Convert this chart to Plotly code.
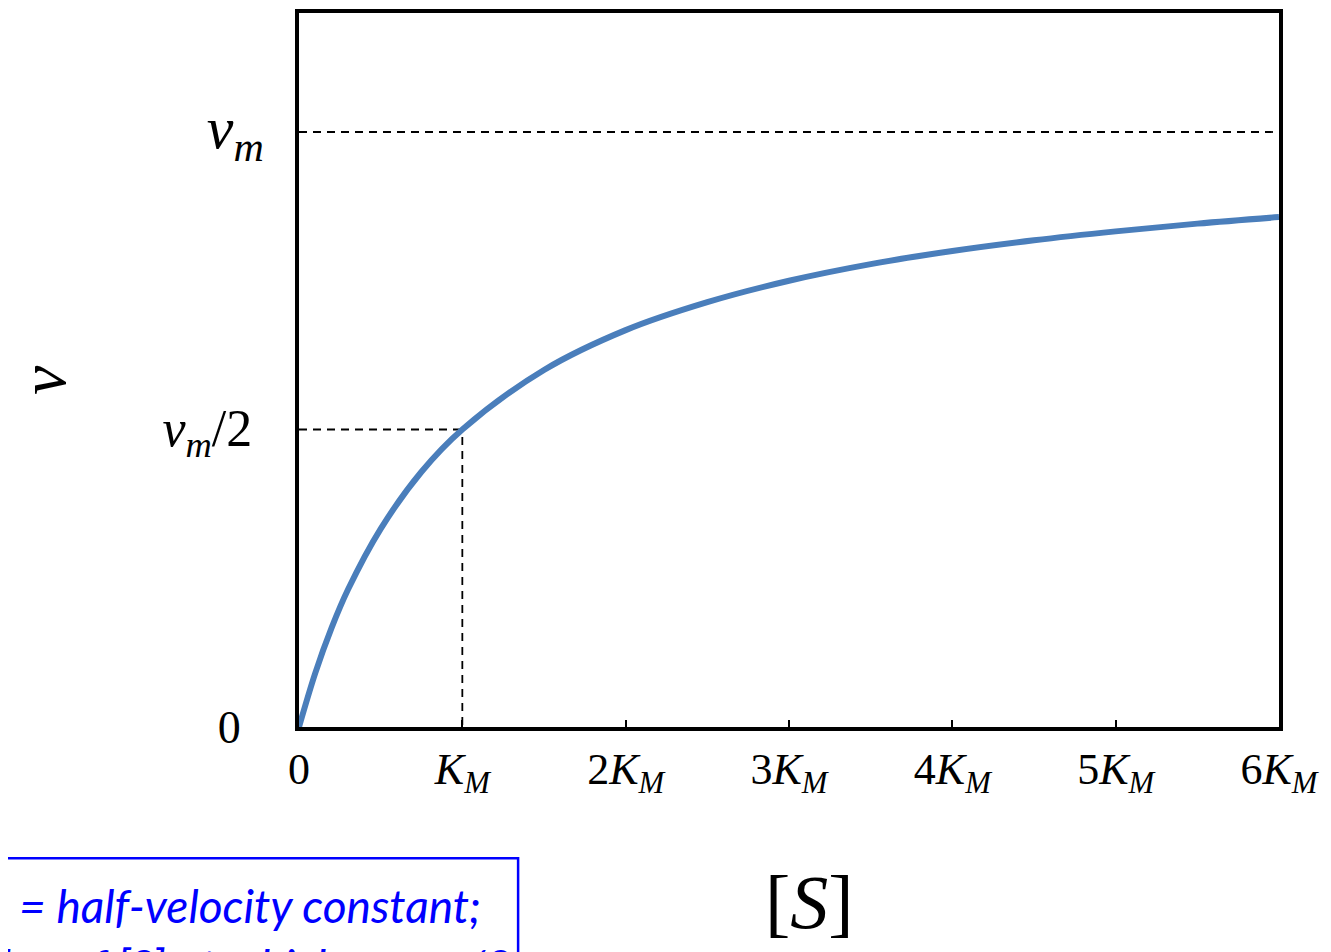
import plotly.graph_objects as go

# Data (x in units of K_M, v in units of v_m)
s_vals = [0, 0.1, 0.2, 0.3, 0.5, 0.75, 1.0, 1.5, 2.0, 2.5, 3.0, 3.5, 4.0, 4.5, 5.0, 5.5, 6.0]
v_vals = [0, 0.091, 0.167, 0.231, 0.333, 0.429, 0.5, 0.6, 0.667, 0.714, 0.75, 0.778, 0.8, 0.818, 0.833, 0.846, 0.857]

x_tickvals = [0, 1, 2, 3, 4, 5, 6]
x_ticktext = ["0",
              "<i>K</i><sub><i>M</i></sub>",
              "2<i>K</i><sub><i>M</i></sub>",
              "3<i>K</i><sub><i>M</i></sub>",
              "4<i>K</i><sub><i>M</i></sub>",
              "5<i>K</i><sub><i>M</i></sub>",
              "6<i>K</i><sub><i>M</i></sub>"]
y_tickvals = [0, 0.5, 1.0]
y_ticktext = ["0&nbsp;&nbsp;",
              "<span style='font-size:52px'><i>v</i><sub><i>m</i></sub>/2</span>&nbsp;",
              "<span style='font-size:60px'><i>v</i><sub><i>m</i></sub></span>"]

# guide lines
vm_line_x = [0, 6]
vm_line_y = [1.0, 1.0]
half_line_x = [0, 1]
half_line_y = [0.5, 0.5]
km_line_x = [1, 1]
km_line_y = [-0.02, 0.5]

SERIF = "Liberation Serif"
dash = "8px,6px"

# browser body margin (8px) compensation
OFF = 8
L, R, T, B = 297 - OFF + 2, 50 + OFF + 2, 11 - OFF - 2, 223 + OFF + 2

fig = go.Figure()
fig.add_trace(go.Scatter(x=vm_line_x, y=vm_line_y, mode="lines",
                         line=dict(color="black", width=1.8, dash=dash),
                         hoverinfo="skip", cliponaxis=False))
fig.add_trace(go.Scatter(x=half_line_x, y=half_line_y, mode="lines",
                         line=dict(color="black", width=1.8, dash=dash),
                         hoverinfo="skip"))
fig.add_trace(go.Scatter(x=km_line_x, y=km_line_y, mode="lines",
                         line=dict(color="black", width=1.8, dash=dash),
                         hoverinfo="skip", cliponaxis=False))
fig.add_trace(go.Scatter(x=s_vals, y=v_vals, mode="lines",
                         line=dict(color="#4a7ebb", width=6, shape="spline"),
                         hoverinfo="skip"))

fig.update_layout(
    width=1331, height=952,
    margin=dict(l=L, r=R, t=T, b=B),
    paper_bgcolor="white", plot_bgcolor="white",
    showlegend=False,
    font=dict(family=SERIF, color="black"),
)
fig.update_xaxes(range=[0, 6], tickvals=x_tickvals, ticktext=x_ticktext,
                 showgrid=False, zeroline=False,
                 showline=True, linecolor="black", linewidth=4, mirror=True,
                 ticks="inside", ticklen=7, tickwidth=1.5, tickcolor="black",
                 tickfont=dict(family=SERIF, size=44, color="black"))
fig.update_yaxes(range=[0, 1.2], tickvals=y_tickvals, ticktext=y_ticktext,
                 showgrid=False, zeroline=False,
                 showline=True, linecolor="black", linewidth=4, mirror=True,
                 ticks="", ticklabelstandoff=22,
                 tickfont=dict(family=SERIF, size=46, color="black"))

# axis titles
fig.add_annotation(text="<i>v</i>", xref="paper", yref="paper",
                   x=(40 - 297) / 984, y=(729 - 380) / 718,
                   xanchor="center", yanchor="middle", showarrow=False,
                   textangle=-90, font=dict(family=SERIF, size=66, color="black"))
fig.add_annotation(text="[<i>S</i>]", xref="paper", yref="paper",
                   x=(810 - 297) / 984, y=(729 - 905) / 718,
                   xanchor="center", yanchor="middle", showarrow=False,
                   font=dict(family=SERIF, size=76, color="black"))

# note box (partially outside the page)
fig.add_shape(type="rect", xref="paper", yref="paper",
              x0=-0.5, x1=(517 - 297) / 984,
              y0=(729 - 861) / 718, y1=-0.6,
              line=dict(color="#0000ff", width=2.5), fillcolor="rgba(0,0,0,0)")
fig.add_annotation(text="<i><i>K</i><sub>M</sub> = half-velocity constant;</i>",
                   xref="paper", yref="paper",
                   x=(482 - 297) / 984, y=(729 - 912) / 718,
                   xanchor="right", yanchor="middle", showarrow=False,
                   font=dict(family="Lato", size=46, color="#0000ff"))
fig.add_annotation(text="<i>value of [S] at which v = v<sub>m</sub>/2</i>",
                   xref="paper", yref="paper",
                   x=(512 - 297) / 984, y=(729 - 972) / 718,
                   xanchor="right", yanchor="middle", showarrow=False,
                   font=dict(family="Lato", size=46, color="#0000ff"))

fig.write_html("out.html")
